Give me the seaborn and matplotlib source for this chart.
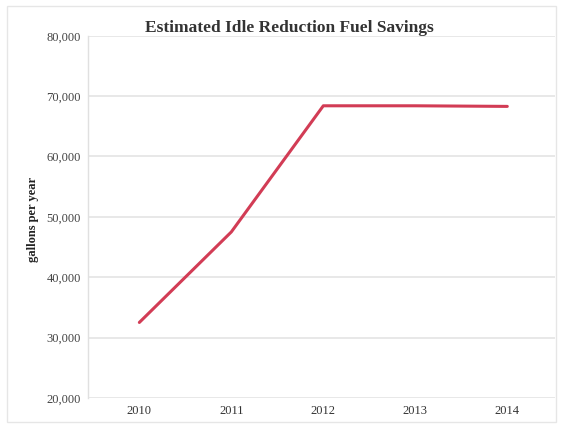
import matplotlib
matplotlib.use("Agg")
import matplotlib.pyplot as plt
import seaborn as sns
import pandas as pd
from matplotlib.patches import Rectangle

years = ["2010", "2011", "2012", "2013", "2014"]
savings = [32500, 47500, 68400, 68400, 68300]
y_ticks = [20000, 30000, 40000, 50000, 60000, 70000, 80000]

df = pd.DataFrame({"year": years, "savings": savings})

sns.set_theme(style="white")
plt.rcParams["font.family"] = ["Liberation Serif", "DejaVu Serif"]

fig = plt.figure(figsize=(5.63, 4.26), dpi=100)
ax = fig.add_axes([0.156, 0.066, 0.83, 0.85])

sns.lineplot(data=df, x="year", y="savings", ax=ax, color="#d23c55",
             linewidth=2.2, sort=False)

ax.set_ylim(20000, 80000)
ax.set_xlim(-0.56, 4.52)
ax.set_yticks(y_ticks)
ax.set_yticklabels([f"{v:,}" for v in y_ticks], fontsize=9, color="#444444")
ax.tick_params(axis="x", labelsize=9, labelcolor="#333333", length=0, pad=5)
ax.tick_params(axis="y", length=0, pad=5)
ax.yaxis.grid(True, color="#e4e4e4", linewidth=1.2)
ax.set_axisbelow(True)

for side in ["top", "right", "bottom"]:
    ax.spines[side].set_visible(False)
ax.spines["left"].set_color("#e0e0e0")
ax.spines["left"].set_linewidth(1.0)

ax.set_xlabel("")
ax.set_ylabel("")
fig.text(0.058, 0.486, "gallons per year", rotation=90, ha="center", va="center",
         fontsize=9, fontweight="bold", color="#222222")
fig.text(0.514, 0.935, "Estimated Idle Reduction Fuel Savings", ha="center",
         va="center", fontsize=12.5, fontweight="bold", color="#333333")

fig.patches.append(Rectangle((0.012, 0.01), 0.975, 0.975, transform=fig.transFigure,
                             fill=False, edgecolor="#e6e6e6", linewidth=1.0))

fig.savefig("out.png", dpi=100)
